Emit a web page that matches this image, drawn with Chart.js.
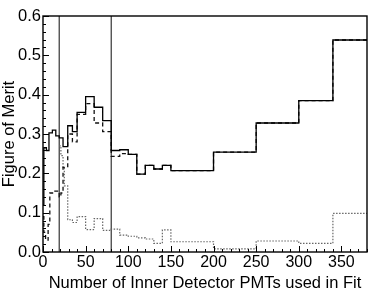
<!DOCTYPE html>
<html><head><meta charset="utf-8">
<script src="https://cdn.jsdelivr.net/npm/chart.js@4/dist/chart.umd.min.js"></script>
<style>html,body{margin:0;padding:0;background:#fff}canvas{display:block}</style>
</head><body>
<canvas id="c" width="374" height="297"></canvas>
<script>
// Bin lower edges (last entry = upper edge of the final bin)
const solidEdges  = [0, 1, 4, 7, 11, 15, 19, 23.5, 29, 34.5, 40, 50, 60, 70, 80, 90, 100, 110, 120, 130, 140, 150, 200, 250, 300, 340, 380];
const solidValues = [0.12, 0.265, 0.258, 0.303, 0.31, 0.295, 0.29, 0.268, 0.321, 0.306, 0.355, 0.395, 0.368, 0.334, 0.258, 0.26, 0.248, 0.198, 0.22, 0.211, 0.22, 0.207, 0.254, 0.328, 0.385, 0.539, 0.539];

const dashedEdges  = [0, 1, 3, 6, 8, 13, 19, 21, 23.5, 29, 34.5, 40, 50, 60, 70, 80, 90, 100, 110, 120, 130, 140, 150, 200, 250, 300, 340, 380];
const dashedValues = [0.09, 0.05, 0.03, 0.07, 0.15, 0.155, 0.14, 0.15, 0.215, 0.30, 0.28, 0.35, 0.377, 0.328, 0.306, 0.243, 0.25, 0.248, 0.198, 0.22, 0.211, 0.22, 0.207, 0.254, 0.328, 0.385, 0.539, 0.539];

const dottedEdges  = [19, 21, 23.5, 25, 29, 34.5, 40, 50, 60, 70, 80, 90, 100, 110, 120, 130, 140, 150, 200, 250, 300, 340, 380];
const dottedValues = [0.27, 0.245, 0.215, 0.168, 0.082, 0.075, 0.09, 0.057, 0.085, 0.055, 0.058, 0.043, 0.04, 0.036, 0.033, 0.022, 0.056, 0.026, 0.008, 0.028, 0.022, 0.098, 0.098];

const cutLines = [19, 80];
const xTickLabels = [0, 50, 100, 150, 200, 250, 300, 350];
const yTickLabels = [0.0, 0.1, 0.2, 0.3, 0.4, 0.5, 0.6];

const FONT = "'Liberation Sans', Arial, Helvetica, sans-serif";
// each value holds from its edge up to the next edge ('before' stepping)
const pts = (xs, ys) => xs.map((x, i) => ({x: x, y: ys[i]}));

const datasets = [
  {data: pts(solidEdges, solidValues), borderColor: '#000', borderWidth: 1.3, stepped: 'before', pointRadius: 0, fill: false},
  {data: pts(dashedEdges, dashedValues), borderColor: '#111', borderWidth: 1.3, borderDash: [4, 3], stepped: 'before', pointRadius: 0, fill: false},
  {data: pts(dottedEdges, dottedValues), borderColor: '#666', borderWidth: 1.2, borderDash: [1.5, 1.5], stepped: 'before', pointRadius: 0, fill: false}
];
cutLines.forEach(v => datasets.push({data: [{x: v, y: 0}, {x: v, y: 0.6}], borderColor: '#222', borderWidth: 1.1, pointRadius: 0, fill: false}));

const frameTicks = {
  id: 'frameTicks',
  afterDatasetsDraw(chart) {
    const {ctx, chartArea: a, scales: {x, y}} = chart;
    ctx.save();
    ctx.strokeStyle = '#000';
    ctx.lineWidth = 1;
    for (let v = 0; v <= 380; v += 10) {
      const px = Math.round(x.getPixelForValue(v)) + 0.5;
      const len = (v % 50 === 0) ? 6 : 3;
      ctx.beginPath(); ctx.moveTo(px, a.bottom); ctx.lineTo(px, a.bottom - len); ctx.stroke();
    }
    for (let i = 0; i <= 30; i++) {
      const v = i * 0.02;
      const py = Math.round(y.getPixelForValue(v)) + 0.5;
      const len = (i % 5 === 0) ? 6 : 3;
      ctx.beginPath(); ctx.moveTo(a.left, py); ctx.lineTo(a.left + len, py); ctx.stroke();
    }
    ctx.lineWidth = 1.4;
    ctx.strokeRect(a.left, a.top, a.right - a.left, a.bottom - a.top);
    ctx.restore();
  }
};

new Chart(document.getElementById('c'), {
  type: 'line',
  data: {datasets},
  options: {
    responsive: false,
    animation: false,
    layout: {padding: {top: 16, right: 7, left: 0, bottom: 0}},
    plugins: {legend: {display: false}, tooltip: {enabled: false}},
    scales: {
      x: {
        type: 'linear', min: 0, max: 380,
        grid: {display: false, drawTicks: false},
        border: {display: false},
        afterBuildTicks: s => { s.ticks = xTickLabels.map(v => ({value: v})); },
        afterFit: s => { s.height = 45; },
        ticks: {color: '#000', font: {family: FONT, size: 16}, padding: 1, maxRotation: 0, autoSkip: false, callback: v => String(v)},
        title: {display: true, text: 'Number of Inner Detector PMTs used in Fit', color: '#000', font: {family: FONT, size: 16.5}, padding: {top: 0, bottom: 4}}
      },
      y: {
        type: 'linear', min: 0, max: 0.6,
        grid: {display: false, drawTicks: false},
        border: {display: false},
        afterBuildTicks: s => { s.ticks = yTickLabels.map(v => ({value: v})); },
        afterFit: s => { s.width = 43; },
        ticks: {color: '#000', font: {family: FONT, size: 16.5}, padding: 2, autoSkip: false, callback: v => Number(v).toFixed(1)},
        title: {display: true, text: 'Figure of Merit', color: '#000', font: {family: FONT, size: 16.5}, padding: {top: 0, bottom: 0}}
      }
    }
  },
  plugins: [frameTicks]
});
</script>
</body></html>
